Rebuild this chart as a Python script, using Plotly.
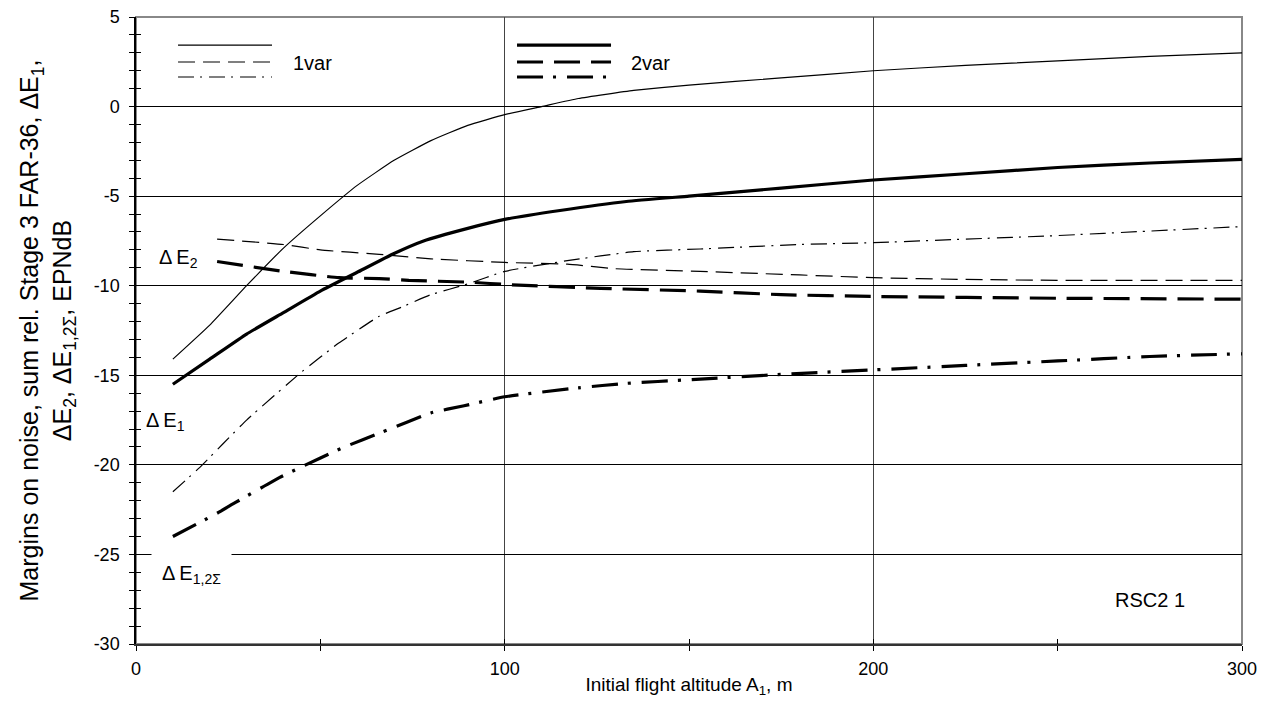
import plotly.graph_objects as go

# ---- data ----
x_e1_1var = [10, 20, 30, 40, 50, 60, 70, 80, 90, 100, 110, 120, 135, 150, 175, 200, 225, 250, 275, 300]
y_e1_1var = [-14.1, -12.2, -10.0, -7.9, -6.1, -4.4, -3.0, -1.9, -1.05, -0.45, 0.0, 0.45, 0.9, 1.2, 1.6, 2.0, 2.3, 2.55, 2.8, 3.0]

x_e1_2var = [10, 20, 30, 40, 50, 60, 70, 78, 90, 100, 115, 133, 150, 175, 200, 225, 250, 275, 300]
y_e1_2var = [-15.5, -14.1, -12.7, -11.5, -10.3, -9.25, -8.2, -7.5, -6.8, -6.3, -5.8, -5.3, -5.0, -4.55, -4.1, -3.75, -3.4, -3.15, -2.95]

x_e2_1var = [22, 40, 50, 66, 80, 100, 117, 130, 153, 180, 200, 225, 250, 300]
y_e2_1var = [-7.4, -7.7, -8.0, -8.25, -8.5, -8.7, -8.8, -9.05, -9.2, -9.4, -9.55, -9.65, -9.7, -9.7]

x_e2_2var = [22, 40, 55, 66, 74, 90, 102, 126, 153, 175, 200, 250, 300]
y_e2_2var = [-8.65, -9.2, -9.55, -9.6, -9.7, -9.8, -9.95, -10.15, -10.3, -10.5, -10.6, -10.7, -10.75]

x_e12_1var = [10, 17, 30, 45, 55, 66, 72, 80, 90, 100, 117, 135, 153, 180, 200, 225, 250, 275, 300]
y_e12_1var = [-21.5, -20.2, -17.5, -14.8, -13.2, -11.7, -11.2, -10.5, -9.9, -9.2, -8.6, -8.1, -7.95, -7.7, -7.6, -7.4, -7.2, -6.95, -6.7]

x_e12_2var = [10, 22, 27, 39, 44, 56, 67, 80, 89, 100, 120, 133, 150, 175, 200, 225, 250, 275, 300]
y_e12_2var = [-24.0, -22.7, -22.1, -20.7, -20.2, -19.05, -18.15, -17.1, -16.7, -16.2, -15.7, -15.45, -15.25, -14.95, -14.7, -14.45, -14.2, -13.95, -13.8]

x_tickvals = [0, 100, 200, 300]
x_ticktext = ["0", "100", "200", "300"]
y_tickvals = [5, 0, -5, -10, -15, -20, -25, -30]
y_ticktext = ["5", "0", "-5", "-10", "-15", "-20", "-25", "-30"]

legend_labels = ["1var", "2var"]

# ---- styles ----
THIN = 1.2
THICK = 3.2
DASH_THIN = "17px,8px"
DASHDOT_THIN = "16px,6px,2px,7px"
DASH_THICK = "26px,11px"
DASHDOT_THICK = "26px,10px,3px,11px"
FONT = "Liberation Sans, Arial, sans-serif"

series = [
    (x_e1_1var, y_e1_1var, THIN, "solid", "ΔE1 1var"),
    (x_e1_2var, y_e1_2var, THICK, "solid", "ΔE1 2var"),
    (x_e2_1var, y_e2_1var, THIN, DASH_THIN, "ΔE2 1var"),
    (x_e2_2var, y_e2_2var, THICK, DASH_THICK, "ΔE2 2var"),
    (x_e12_1var, y_e12_1var, THIN, DASHDOT_THIN, "ΔE1,2Σ 1var"),
    (x_e12_2var, y_e12_2var, THICK, DASHDOT_THICK, "ΔE1,2Σ 2var"),
]

fig = go.Figure()
for xs, ys, w, d, name in series:
    fig.add_trace(go.Scatter(x=xs, y=ys, mode="lines", name=name, showlegend=False,
                             line=dict(color="black", width=w, dash=d, shape="spline", smoothing=0.4)))

# empty trace to create overlay axes (inner half of the crossing ticks)
fig.add_trace(go.Scatter(x=[], y=[], xaxis="x2", yaxis="y2", showlegend=False, hoverinfo="skip"))

# page body has an 8px margin; figure is sized so the plot area lands where the reference has it
fig.update_layout(
    width=1269, height=699,
    margin=dict(l=128, r=35, t=9, b=63),
    paper_bgcolor="white", plot_bgcolor="white",
    font=dict(family=FONT, size=18, color="black"),
    xaxis=dict(range=[0, 300], tickvals=x_tickvals, ticktext=x_ticktext, ticks="outside",
               minor=dict(dtick=50, ticks="outside", ticklen=5, tickcolor="black", showgrid=False),
               showgrid=True, gridcolor="#444444", gridwidth=1,
               showline=True, linecolor="#333333", linewidth=2, zeroline=False,
               tickcolor="black", ticklen=5, tickfont=dict(size=18), ticklabelstandoff=2,
               automargin=False, ticklabeloverflow="allow",
               title=dict(text="Initial flight altitude A<sub>1</sub>, m", font=dict(size=19), standoff=0)),
    yaxis=dict(range=[-30, 5], tickvals=y_tickvals, ticktext=y_ticktext, ticks="outside",
               minor=dict(dtick=1, ticks="outside", ticklen=5, tickcolor="black", showgrid=False),
               showgrid=True, gridcolor="black", gridwidth=1,
               showline=True, linecolor="black", linewidth=1.5, zeroline=False,
               tickcolor="black", ticklen=5, tickfont=dict(size=18),
               ticklabelstandoff=6, automargin=False, ticklabeloverflow="allow",
               title=dict(text="Margins on noise, sum rel. Stage 3 FAR-36, ΔE<sub>1</sub>,<br>ΔE<sub>2</sub>, ΔE<sub>1,2Σ</sub>, EPNdB",
                          font=dict(size=25), standoff=15)),
    xaxis2=dict(overlaying="x", range=[0, 300], tickvals=x_tickvals, showticklabels=False, ticks="inside",
                minor=dict(dtick=50, ticks="inside", ticklen=5, tickcolor="black"),
                ticklen=5, tickcolor="black", showgrid=False, zeroline=False, showline=False, side="bottom"),
    yaxis2=dict(overlaying="y", range=[-30, 5], tickvals=y_tickvals, showticklabels=False, ticks="inside",
                minor=dict(dtick=1, ticks="inside", ticklen=5, tickcolor="black"),
                ticklen=5, tickcolor="black", showgrid=False, zeroline=False, showline=False, side="left"),
)

# gray frame (top / right)
fig.add_shape(type="rect", xref="paper", yref="paper", x0=0, x1=1, y0=0, y1=1,
              line=dict(color="#888888", width=2), layer="below")

# legend samples
thin_styles = ["solid", DASH_THIN, DASHDOT_THIN]
thick_styles = ["solid", DASH_THICK, DASHDOT_THICK]
row_y = [0.9553, 0.9282, 0.9043]
for yy, d in zip(row_y, thin_styles):
    fig.add_shape(type="line", xref="paper", yref="paper", x0=0.038, x1=0.123, y0=yy, y1=yy,
                  line=dict(color="black", width=THIN, dash=d))
for yy, d in zip(row_y, thick_styles):
    fig.add_shape(type="line", xref="paper", yref="paper", x0=0.3445, x1=0.4295, y0=yy, y1=yy,
                  line=dict(color="black", width=THICK, dash=d))
fig.add_annotation(xref="paper", yref="paper", x=0.160, y=0.926, text=legend_labels[0],
                   showarrow=False, font=dict(size=20), xanchor="center", yanchor="middle")
fig.add_annotation(xref="paper", yref="paper", x=0.4656, y=0.926, text=legend_labels[1],
                   showarrow=False, font=dict(size=20), xanchor="center", yanchor="middle")

# curve labels
fig.add_annotation(x=11.4, y=-8.5, text="Δ\u2009E<sub>2</sub>", showarrow=False,
                   font=dict(size=20), xanchor="center", yanchor="middle")
fig.add_annotation(x=8.1, y=-17.6, text="Δ\u2009E<sub>1</sub>", showarrow=False,
                   font=dict(size=20), xanchor="center", yanchor="middle")
fig.add_annotation(x=15.0, y=-26.1, text="Δ\u2009E<sub>1,2Σ</sub>", showarrow=False,
                   font=dict(size=20), xanchor="center", yanchor="middle",
                   bgcolor="white", borderpad=10)
fig.add_annotation(x=275, y=-27.55, text="RSC2 1", showarrow=False,
                   font=dict(size=20), xanchor="center", yanchor="middle")

fig.write_html("out.html")
